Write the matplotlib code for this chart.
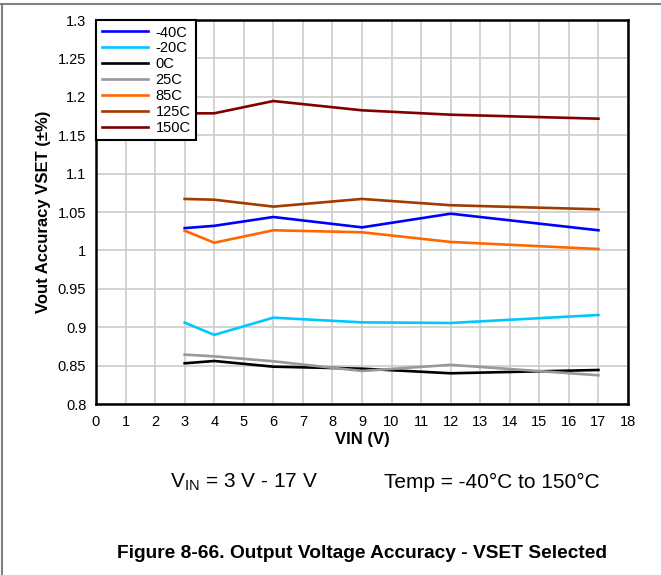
import numpy as np
import matplotlib
matplotlib.use('Agg')
import matplotlib.pyplot as plt
from matplotlib.lines import Line2D

plt.rcParams['font.family'] = ['Liberation Sans', 'DejaVu Sans']

# Datos
vin = [3, 4, 6, 9, 12, 17]
etiquetas = ['-40C', '-20C', '0C', '25C', '85C', '125C', '150C']
colores = ['#0000FF', '#00C8FF', '#000000', '#999999', '#FF6600', '#A33A00', '#800000']
t_m40 = [1.029, 1.032, 1.0435, 1.030, 1.0478, 1.0262]
t_m20 = [0.906, 0.890, 0.9124, 0.9063, 0.9055, 0.9159]
t_0 = [0.853, 0.856, 0.8486, 0.846, 0.840, 0.8443]
t_25 = [0.8643, 0.862, 0.8556, 0.843, 0.851, 0.8374]
t_85 = [1.0257, 1.010, 1.0262, 1.0236, 1.011, 1.0018]
t_125 = [1.067, 1.066, 1.057, 1.067, 1.0588, 1.0535]
t_150 = [1.1785, 1.1785, 1.1945, 1.1824, 1.1767, 1.1715]
series = [t_m40, t_m20, t_0, t_25, t_85, t_125, t_150]

x_ticks = np.arange(0, 19, 1)
y_ticks = [0.8, 0.85, 0.9, 0.95, 1, 1.05, 1.1, 1.15, 1.2, 1.25, 1.3]
y_tick_labels = ['0.8', '0.85', '0.9', '0.95', '1', '1.05', '1.1', '1.15', '1.2', '1.25', '1.3']

fig = plt.figure(figsize=(6.61, 5.75), dpi=100)
W, H = 661, 575
ax = fig.add_axes([96 / W, 1 - 404 / H, (628 - 96) / W, (404 - 20) / H])

for valores, etiqueta, color in zip(series, etiquetas, colores):
    ax.plot(vin, valores, color=color, lw=1.9, label=etiqueta, solid_joinstyle='miter')

ax.set_xlim(0, 18)
ax.set_ylim(0.8, 1.3)
ax.set_xticks(x_ticks)
ax.set_yticks(y_ticks)
ax.set_yticklabels(y_tick_labels)
ax.tick_params(length=0, labelsize=10.5)
ax.tick_params(axis='y', pad=7)
ax.tick_params(axis='x', pad=8)
ax.grid(True, color='#CCCCCC', lw=1.2)
ax.set_axisbelow(True)
for s in ax.spines.values():
    s.set_linewidth(1.8)

ax.set_xlabel('VIN (V)', fontsize=12, fontweight='bold', labelpad=2)
ax.set_ylabel('Vout Accuracy VSET (±%)', fontsize=12, fontweight='bold', labelpad=5)

leg = ax.legend(loc='upper left', fontsize=10.5, frameon=True, fancybox=False,
                edgecolor='black', framealpha=1, borderaxespad=0,
                handlelength=3.2, labelspacing=0.13, borderpad=0.38, handletextpad=0.5)
leg.get_frame().set_linewidth(1.5)

# Textos bajo el grafico
fig.text(170 / W, 1 - 482 / H, r'V$_{\mathregular{IN}}$ = 3 V - 17 V', fontsize=15, va='center')
fig.text(384 / W, 1 - 482 / H, 'Temp = -40°C to 150°C', fontsize=15, va='center')
fig.text(362 / W, 1 - 553 / H, 'Figure 8-66. Output Voltage Accuracy - VSET Selected',
         fontsize=13.8, fontweight='bold', ha='center', va='center')

# Borde gris
fig.add_artist(Line2D([0, 1], [1 - 3.5 / H, 1 - 3.5 / H], color='#808080', lw=1.5))
fig.add_artist(Line2D([1.5 / W, 1.5 / W], [0, 1 - 3.5 / H], color='#808080', lw=1.5))

fig.savefig('out.png', dpi=100)
